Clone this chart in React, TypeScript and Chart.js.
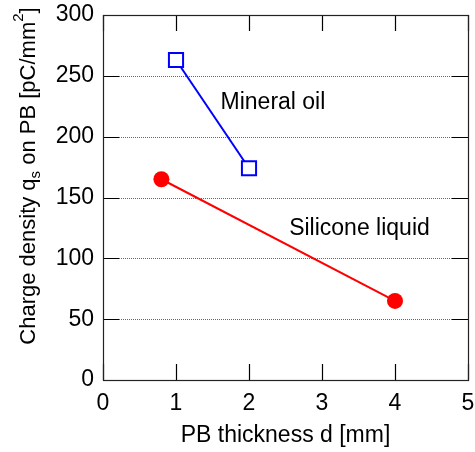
import React, { useEffect, useRef } from "react";
import { Chart, registerables } from "chart.js";

Chart.register(...registerables);

// PB thickness d [mm] and charge density [pC/mm^2]
const mineralOilThickness = [1, 2];
const mineralOilCharge = [263, 174];
const siliconeThickness = [0.8, 4];
const siliconeCharge = [165, 65];

const xTicks = [0, 1, 2, 3, 4, 5];
const yTicks = [0, 50, 100, 150, 200, 250, 300];

// series labels placed in data coordinates (left edge, baseline)
const seriesLabels = [
  { text: "Mineral oil", x: 1.61, y: 222.5 },
  { text: "Silicone liquid", x: 2.55, y: 119 },
];

const FONT = "Liberation Sans, Arial, Helvetica, sans-serif";
const FS = 23;
const TITLE_FS = 22;
const TICK_LEN = 16;

// plot box edges in canvas pixels
const BOX = { left: 103, right: 468, top: 15, bottom: 380 };

const framePlugin = {
  id: "frame",
  beforeDatasetsDraw(chart: any) {
    const { ctx, chartArea: a, scales } = chart;
    const xs = scales.x;
    const ys = scales.y;
    ctx.save();
    // dotted horizontal grid between the inward ticks
    ctx.strokeStyle = "#666";
    ctx.lineWidth = 1;
    ctx.setLineDash([1, 1]);
    yTicks.forEach((v) => {
      if (v === 0 || v === 300) return;
      const y = Math.round(ys.getPixelForValue(v)) + 0.5;
      ctx.beginPath();
      ctx.moveTo(a.left + TICK_LEN, y);
      ctx.lineTo(a.right - TICK_LEN, y);
      ctx.stroke();
    });
    ctx.setLineDash([]);
    // inward tick marks on all four sides
    ctx.strokeStyle = "#000";
    ctx.lineWidth = 1.2;
    yTicks.forEach((v) => {
      const y = Math.round(ys.getPixelForValue(v)) + 0.5;
      ctx.beginPath();
      ctx.moveTo(a.left, y);
      ctx.lineTo(a.left + TICK_LEN, y);
      ctx.moveTo(a.right, y);
      ctx.lineTo(a.right - TICK_LEN, y);
      ctx.stroke();
    });
    xTicks.forEach((v) => {
      const x = Math.round(xs.getPixelForValue(v)) + 0.5;
      ctx.beginPath();
      ctx.moveTo(x, a.bottom);
      ctx.lineTo(x, a.bottom - TICK_LEN);
      ctx.moveTo(x, a.top);
      ctx.lineTo(x, a.top + TICK_LEN);
      ctx.stroke();
    });
    // plot frame
    ctx.strokeStyle = "#222";
    ctx.lineWidth = 1.2;
    ctx.strokeRect(
      Math.round(a.left) + 0.5,
      Math.round(a.top) + 0.5,
      Math.round(a.right - a.left),
      Math.round(a.bottom - a.top)
    );
    ctx.restore();
  },
  afterDraw(chart: any) {
    const { ctx, chartArea: a, scales } = chart;
    const xs = scales.x;
    const ys = scales.y;
    ctx.save();
    ctx.fillStyle = "#000";
    ctx.font = `${FS}px ${FONT}`;
    ctx.textBaseline = "alphabetic";

    // series labels
    ctx.textAlign = "left";
    seriesLabels.forEach((l) => {
      ctx.fillText(l.text, xs.getPixelForValue(l.x), ys.getPixelForValue(l.y));
    });

    // x-axis title
    ctx.textAlign = "center";
    ctx.fillText("PB thickness d [mm]", (a.left + a.right) / 2, 442);

    // y-axis title with subscript and superscript
    const small = Math.round(TITLE_FS * 0.7);
    const runs = [
      { t: "Charge density q", size: TITLE_FS, dy: 0 },
      { t: "s", size: small, dy: 5 },
      { t: " on PB [pC/mm", size: TITLE_FS, dy: 0 },
      { t: "2", size: small, dy: -12 },
      { t: "]", size: TITLE_FS, dy: 0 },
    ];
    let total = 0;
    const widths = runs.map((r) => {
      ctx.font = `${r.size}px ${FONT}`;
      const w = ctx.measureText(r.t).width;
      total += w;
      return w;
    });
    ctx.translate(35, 176);
    ctx.rotate(-Math.PI / 2);
    ctx.textAlign = "left";
    let cx = -total / 2;
    runs.forEach((r, i) => {
      ctx.font = `${r.size}px ${FONT}`;
      ctx.fillText(r.t, cx, r.dy);
      cx += widths[i];
    });
    ctx.restore();
  },
};

// pins the chart area to the plot box after Chart.js lays out its boxes
const boxPlugin = {
  id: "pinBox",
  afterLayout(chart: any) {
    const a = chart.chartArea;
    a.left = BOX.left;
    a.right = BOX.right;
    a.top = BOX.top;
    a.bottom = BOX.bottom;
    a.width = BOX.right - BOX.left;
    a.height = BOX.bottom - BOX.top;
    const xs = chart.scales.x;
    xs.left = BOX.left;
    xs.right = BOX.right;
    xs.width = BOX.right - BOX.left;
    xs.top = BOX.bottom;
    xs.bottom = chart.height;
    xs.configure();
    const ys = chart.scales.y;
    ys.top = BOX.top;
    ys.bottom = BOX.bottom;
    ys.height = BOX.bottom - BOX.top;
    ys.left = 0;
    ys.right = BOX.left;
    ys.configure();
  },
};

export default function App() {
  const ref = useRef<HTMLCanvasElement>(null);

  useEffect(() => {
    if (!ref.current) return;
    const chart = new Chart(ref.current, {
      type: "line",
      data: {
        datasets: [
          {
            label: "Mineral oil",
            data: mineralOilThickness.map((x, i) => ({ x, y: mineralOilCharge[i] })),
            borderColor: "#0000ff",
            borderWidth: 2,
            pointStyle: "rect",
            pointRadius: 10,
            pointBorderWidth: 2,
            pointBackgroundColor: "#ffffff",
            pointBorderColor: "#0000ff",
            tension: 0,
          },
          {
            label: "Silicone liquid",
            data: siliconeThickness.map((x, i) => ({ x, y: siliconeCharge[i] })),
            borderColor: "#ff0000",
            borderWidth: 2,
            pointStyle: "circle",
            pointRadius: 8,
            pointBorderWidth: 0,
            pointBackgroundColor: "#ff0000",
            pointBorderColor: "#ff0000",
            tension: 0,
          },
        ],
      },
      options: {
        responsive: false,
        animation: false,
        events: [],
        layout: { padding: { top: 15, right: 7, left: 0, bottom: 0 } },
        plugins: { legend: { display: false }, tooltip: { enabled: false } },
        scales: {
          x: {
            type: "linear",
            min: 0,
            max: 5,
            grid: { display: false, drawTicks: false },
            border: { display: false },
            ticks: {
              stepSize: 1,
              color: "#000",
              padding: 10,
              font: { family: FONT, size: FS },
            },
            afterFit: (s: any) => {
              s.height = 72;
              s.paddingLeft = 0;
              s.paddingRight = 0;
            },
          },
          y: {
            type: "linear",
            min: 0,
            max: 300,
            grid: { display: false, drawTicks: false },
            border: { display: false },
            ticks: {
              stepSize: 50,
              color: "#000",
              padding: 9,
              font: { family: FONT, size: FS },
            },
            afterFit: (s: any) => {
              s.width = 103;
              s.paddingTop = 0;
              s.paddingBottom = 0;
            },
          },
        },
      },
      plugins: [boxPlugin, framePlugin],
    });
    return () => chart.destroy();
  }, []);

  return (
    <div style={{ position: "fixed", left: 0, top: 0, width: 475, height: 452, background: "#fff" }}>
      <canvas ref={ref} width={475} height={452} style={{ display: "block" }} />
    </div>
  );
}
